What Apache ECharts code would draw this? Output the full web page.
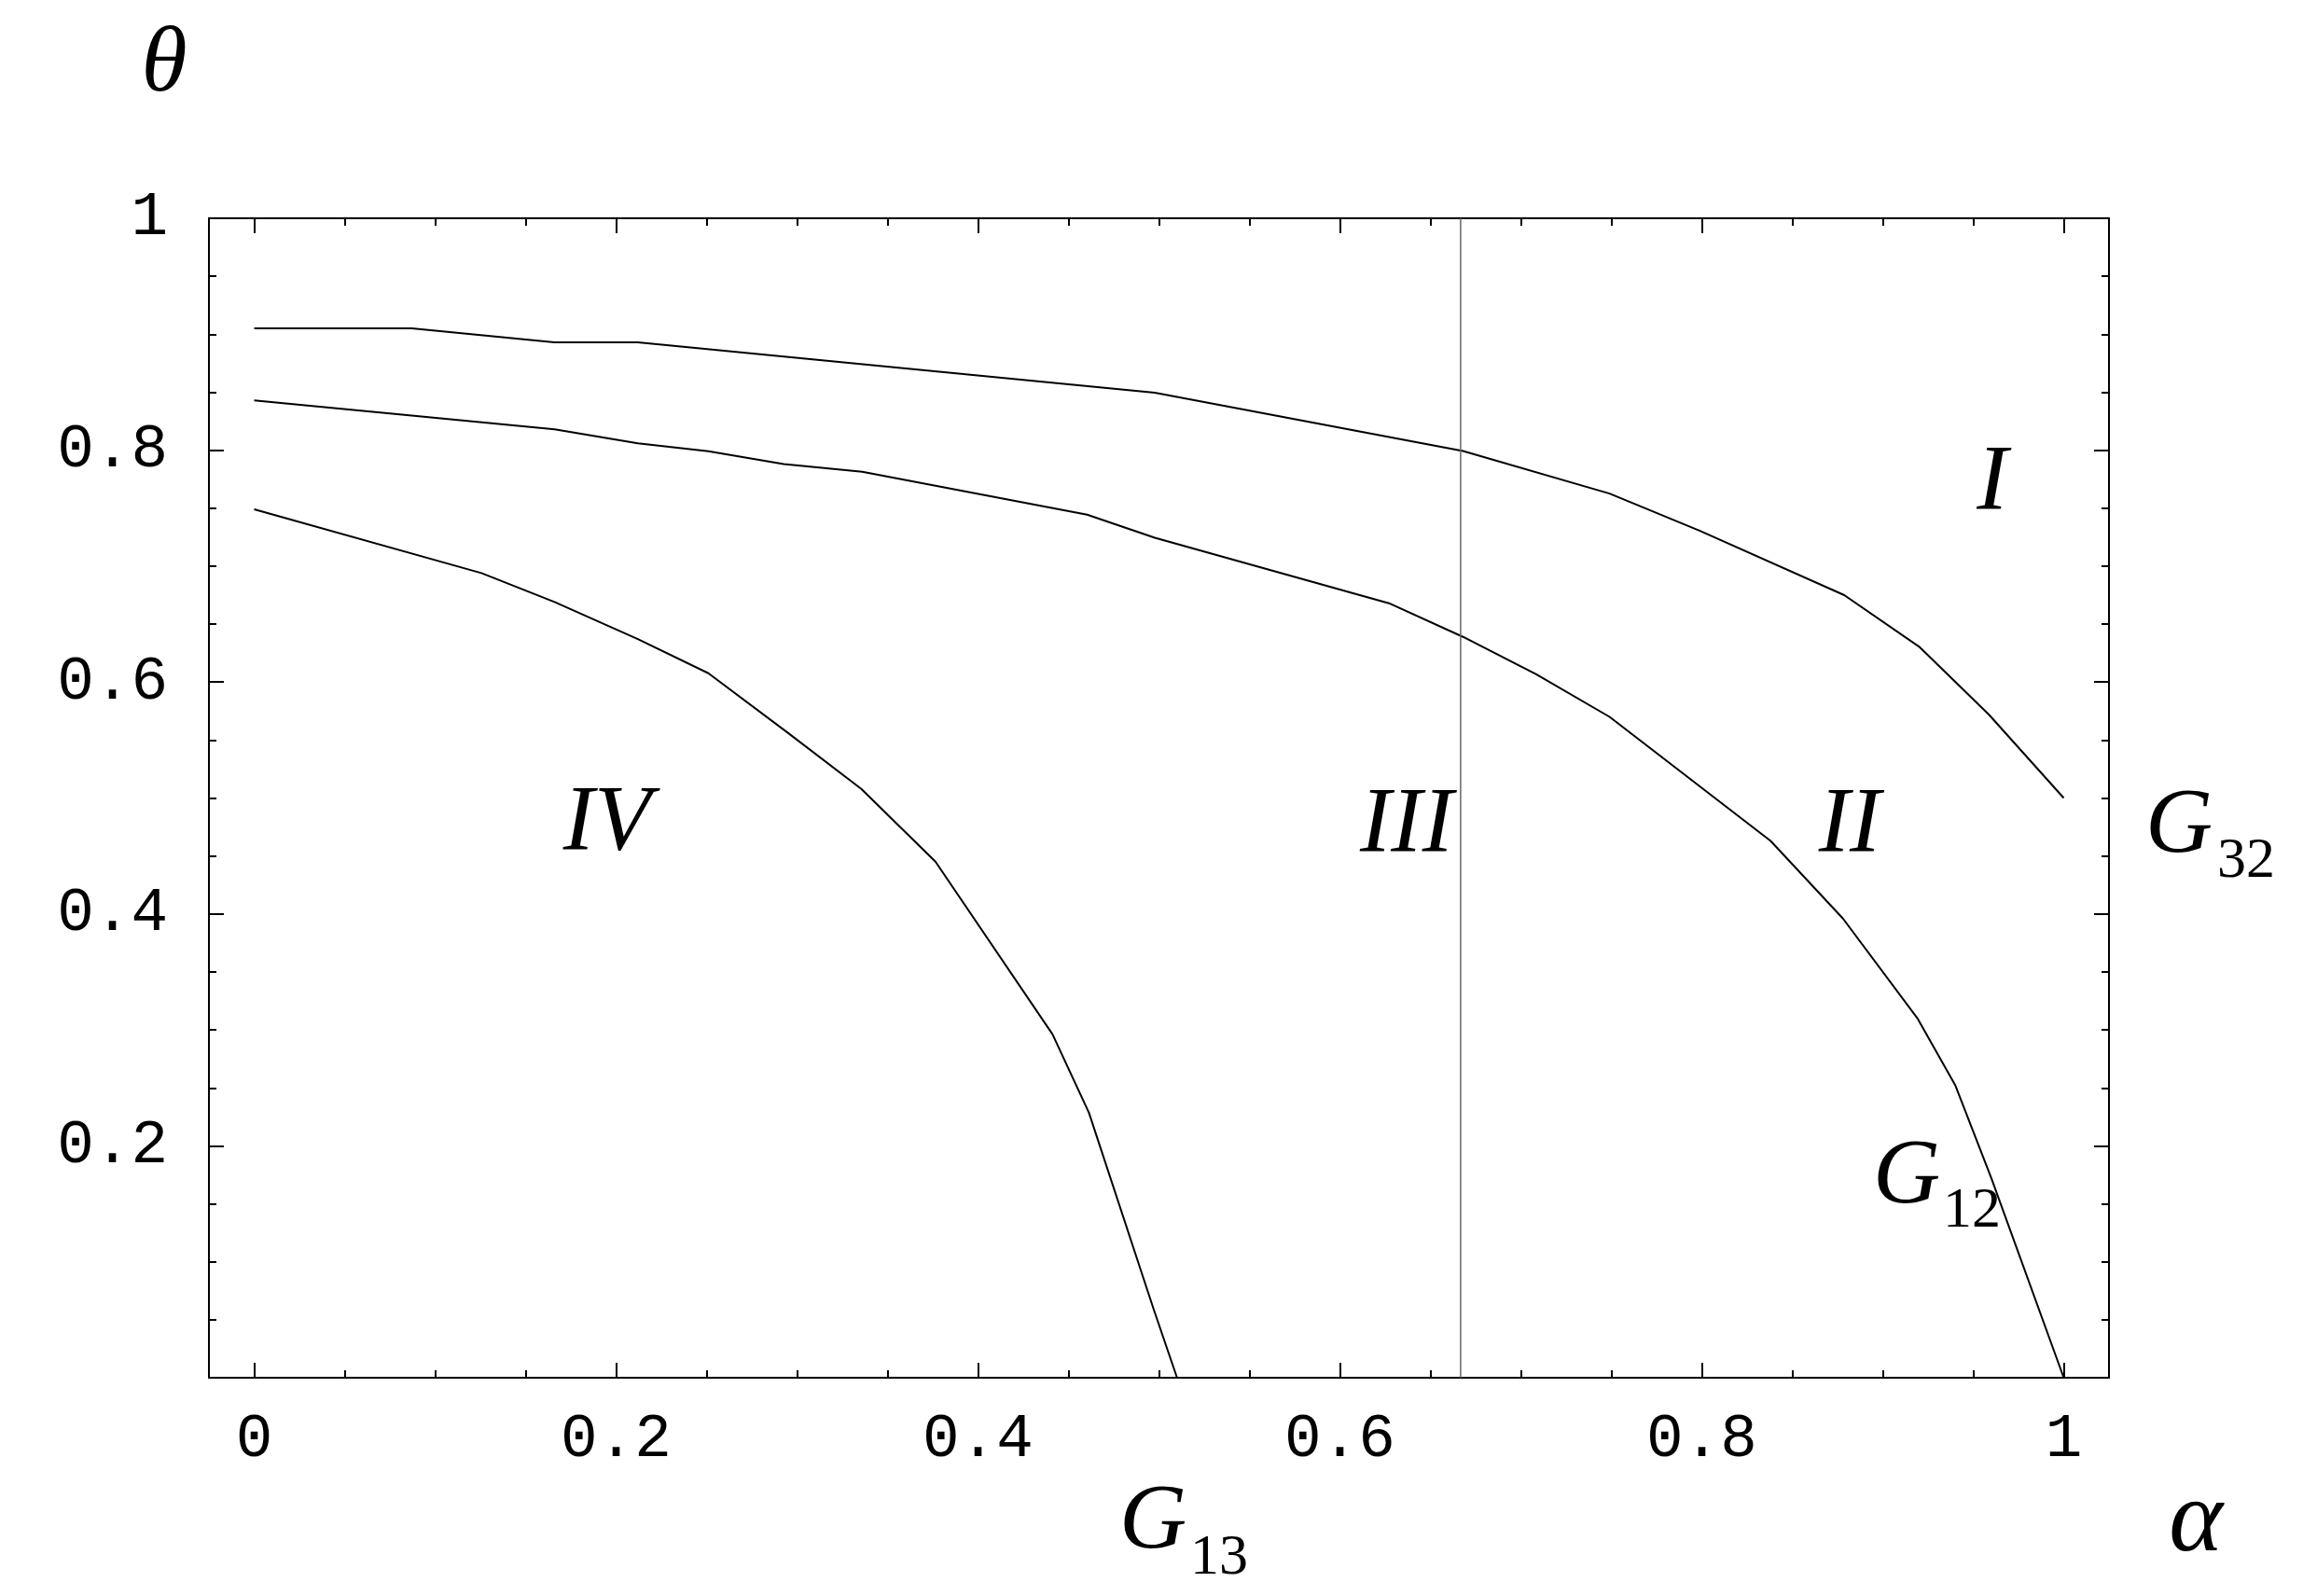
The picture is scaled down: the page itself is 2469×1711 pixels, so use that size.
<!DOCTYPE html>
<html><head><meta charset="utf-8">
<script src="https://cdn.jsdelivr.net/npm/echarts@6/dist/echarts.min.js"></script>
<style>html,body{margin:0;padding:0;background:#fff}#c{width:2469px;height:1711px}</style>
</head><body><div id="c"></div>
<script>
// Curve G32 (upper boundary)
const g32X = [0, 0.087, 0.166, 0.212, 0.4977, 0.668, 0.749, 0.799, 0.8787, 0.9205, 0.9586, 1.0];
const g32Y = [0.905, 0.905, 0.893, 0.893, 0.8495, 0.7993, 0.7626, 0.7304, 0.675, 0.630, 0.572, 0.5];
// Curve G12 (middle boundary)
const g12X = [0, 0.166, 0.212, 0.251, 0.2926, 0.336, 0.4603, 0.4977, 0.6271, 0.668, 0.7085, 0.749, 0.838, 0.878, 0.9194, 0.940, 0.96, 1.0];
const g12Y = [0.843, 0.818, 0.806, 0.799, 0.788, 0.7813, 0.7444, 0.7245, 0.668, 0.639, 0.6067, 0.570, 0.463, 0.396, 0.3094, 0.2525, 0.172, 0];
// Curve G13 (lower boundary)
const g13X = [0, 0.1256, 0.166, 0.212, 0.251, 0.2951, 0.3355, 0.3765, 0.4412, 0.4613, 0.4971, 0.51];
const g13Y = [0.749, 0.694, 0.669, 0.637, 0.6076, 0.556, 0.5079, 0.4451, 0.2962, 0.2286, 0.0589, 0];
// Vertical boundary alpha = 2/3
const boundaryX = [0.6667, 0.6667];
const boundaryY = [0, 1];

// Tick positions / labels
const xMajor = [0, 0.2, 0.4, 0.6, 0.8, 1];
const xMinor = [0, 0.05, 0.1, 0.15, 0.2, 0.25, 0.3, 0.35, 0.4, 0.45, 0.5, 0.55, 0.6, 0.65, 0.7, 0.75, 0.8, 0.85, 0.9, 0.95, 1];
const yMajor = [0.2, 0.4, 0.6, 0.8, 1];
const yMinor = [0.05, 0.1, 0.15, 0.2, 0.25, 0.3, 0.35, 0.4, 0.45, 0.5, 0.55, 0.6, 0.65, 0.7, 0.75, 0.8, 0.85, 0.9, 0.95];

const zip = (xs, ys) => xs.map((x, i) => [x, ys[i]]);
const chart = echarts.init(document.getElementById('c'), null, {renderer: 'canvas'});

const monoFont = {fontFamily: '"Liberation Mono", monospace', fontSize: 66, color: '#000'};
const axisLineOn = {show: true, onZero: false, lineStyle: {color: '#000', width: 2}};
const axisLineOff = {show: false, onZero: false};

function xAx(pos, ticks, len, showLine, showLabel) {
  return {
    type: 'value', position: pos, min: -0.025, max: 1.025,
    axisLine: showLine ? axisLineOn : axisLineOff,
    axisTick: {show: true, inside: true, length: len, customValues: ticks, lineStyle: {color: '#000', width: 2}},
    axisLabel: showLabel ? Object.assign({show: true, margin: 34, customValues: xMajor}, monoFont) : {show: false},
    splitLine: {show: false}
  };
}
function yAx(pos, ticks, len, showLine, showLabel) {
  return {
    type: 'value', position: pos, min: 0, max: 1,
    axisLine: showLine ? axisLineOn : axisLineOff,
    axisTick: {show: true, inside: true, length: len, customValues: ticks, lineStyle: {color: '#000', width: 2}},
    axisLabel: showLabel ? Object.assign({show: true, margin: 44, customValues: yMajor}, monoFont) : {show: false},
    splitLine: {show: false}
  };
}

const serifI = 'italic 100px "Liberation Serif"';
const serifR = '62px "Liberation Serif"';
function txt(text, x, y, font, align) {
  return {type: 'text', x: x, y: y, z: 100, style: {text: text, font: font, fill: '#000', align: align || 'center', verticalAlign: 'middle'}};
}

const lineStyle = {color: '#000', width: 2};
chart.setOption({
  animation: false,
  backgroundColor: '#fff',
  grid: {left: 224, right: 208, top: 234, bottom: 234, containLabel: false},
  xAxis: [
    xAx('bottom', xMinor, 8, true, true),
    xAx('bottom', xMajor, 16, false, false),
    xAx('top', xMinor, 8, true, false),
    xAx('top', xMajor, 16, false, false)
  ],
  yAxis: [
    yAx('left', yMinor, 8, true, true),
    yAx('left', yMajor, 16, false, false),
    yAx('right', yMinor, 8, true, false),
    yAx('right', yMajor, 16, false, false)
  ],
  series: [
    {type: 'line', name: 'G32', data: zip(g32X, g32Y), showSymbol: false, symbol: 'none', lineStyle: lineStyle, silent: true},
    {type: 'line', name: 'G12', data: zip(g12X, g12Y), showSymbol: false, symbol: 'none', lineStyle: lineStyle, silent: true},
    {type: 'line', name: 'G13', data: zip(g13X, g13Y), showSymbol: false, symbol: 'none', lineStyle: lineStyle, silent: true},
    {type: 'line', name: 'alpha=2/3', data: zip(boundaryX, boundaryY), showSymbol: false, symbol: 'none', lineStyle: {color: '#666', width: 1.5}, silent: true}
  ],
  graphic: [
    txt('\u03B8', 176, 71, serifI),
    txt('\u03B1', 2354, 1633, 'italic 110px "Liberation Serif"'),
    txt('IV', 651, 884, serifI),
    txt('III', 1508, 886, serifI),
    txt('II', 1983, 886, serifI),
    txt('I', 2136, 519, serifI),
    txt('G', 2300, 887, serifI, 'left'),
    txt('32', 2377, 924, serifR, 'left'),
    txt('G', 2008, 1263, serifI, 'left'),
    txt('12', 2083, 1299, serifR, 'left'),
    txt('G', 1200, 1633, serifI, 'left'),
    txt('13', 1276, 1671, serifR, 'left')
  ]
});
</script></body></html>
